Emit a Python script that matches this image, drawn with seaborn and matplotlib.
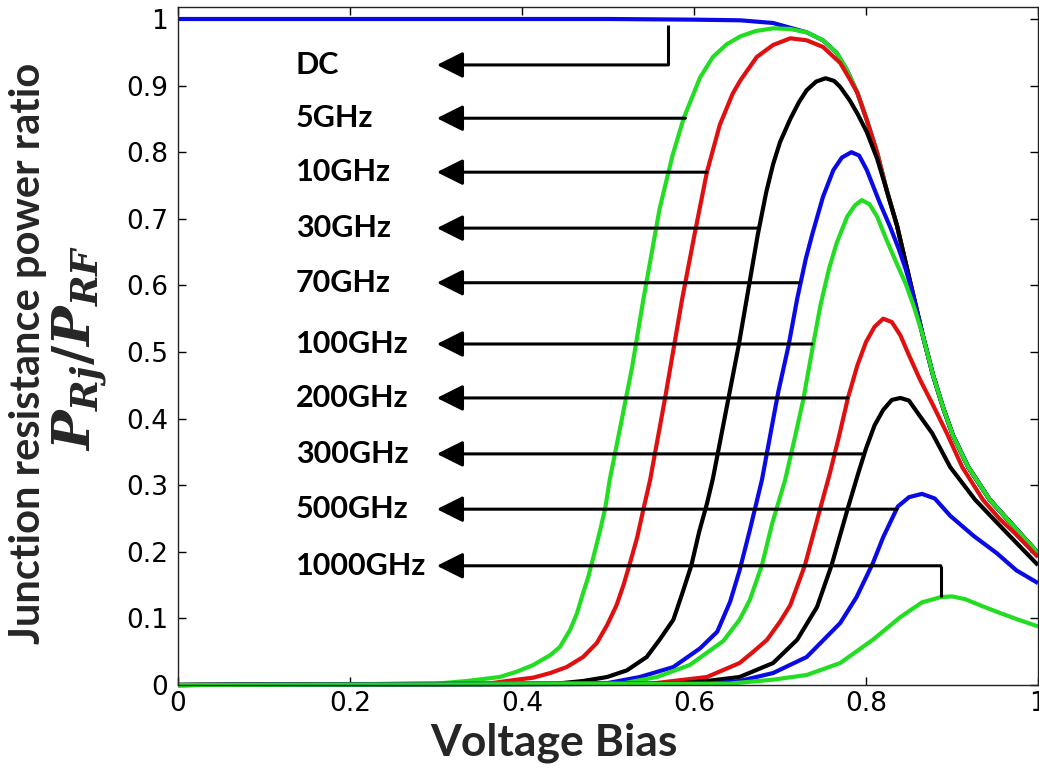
import matplotlib
matplotlib.use("Agg")
import matplotlib.pyplot as plt
import numpy as np
import pandas as pd
import seaborn as sns

# ---------------- data ----------------
SERIES = ["DC", "5GHz", "10GHz", "30GHz", "70GHz", "100GHz",
          "200GHz", "300GHz", "500GHz", "1000GHz"]

# common descending envelope shared by the low-frequency curves
ENV_X = [0.731, 0.750, 0.766, 0.778, 0.790, 0.801, 0.813, 0.824, 0.836, 0.845,
         0.855, 0.866, 0.878, 0.890, 0.901, 0.919, 0.944, 0.979, 1.0]
ENV_Y = [0.980, 0.968, 0.949, 0.923, 0.889, 0.848, 0.799, 0.743, 0.690, 0.640,
         0.585, 0.525, 0.465, 0.415, 0.375, 0.327, 0.278, 0.228, 0.198]

DC_X = [0.0, 0.30, 0.50, 0.60, 0.654, 0.692]
DC_Y = [1.0, 1.0, 1.0, 0.999, 0.998, 0.994]

G5_X = [0.0, 0.30, 0.336, 0.374, 0.394, 0.413, 0.433, 0.444, 0.456, 0.464, 0.471,
        0.477, 0.483, 0.491, 0.497, 0.502, 0.515, 0.528, 0.541, 0.560, 0.575, 0.588,
        0.607, 0.622, 0.638, 0.654, 0.672, 0.692, 0.712]
G5_Y = [0.0, 0.002, 0.006, 0.012, 0.020, 0.030, 0.045, 0.057, 0.083, 0.108, 0.138,
        0.162, 0.192, 0.233, 0.267, 0.308, 0.392, 0.477, 0.578, 0.715, 0.795, 0.851,
        0.912, 0.943, 0.962, 0.974, 0.982, 0.986, 0.985]

R10_X = [0.0, 0.36, 0.394, 0.413, 0.433, 0.452, 0.471, 0.487, 0.499, 0.510, 0.518,
         0.526, 0.534, 0.541, 0.549, 0.566, 0.586, 0.601, 0.615, 0.630, 0.645, 0.654,
         0.673, 0.692, 0.712, 0.731, 0.750, 0.770, 0.781]
R10_Y = [0.0, 0.002, 0.008, 0.011, 0.018, 0.027, 0.042, 0.063, 0.090, 0.120, 0.150,
         0.185, 0.222, 0.263, 0.308, 0.428, 0.578, 0.679, 0.770, 0.841, 0.888, 0.908,
         0.943, 0.961, 0.971, 0.968, 0.958, 0.934, 0.910]

K30_X = [0.0, 0.44, 0.471, 0.499, 0.522, 0.545, 0.560, 0.576, 0.587, 0.597, 0.606,
         0.615, 0.622, 0.631, 0.640, 0.652, 0.662, 0.674, 0.684, 0.692, 0.700, 0.712,
         0.722, 0.731, 0.742, 0.753, 0.763, 0.770, 0.781, 0.790, 0.801, 0.813]
K30_Y = [0.0, 0.002, 0.006, 0.012, 0.022, 0.042, 0.068, 0.098, 0.140, 0.180, 0.230,
         0.272, 0.310, 0.370, 0.430, 0.510, 0.585, 0.675, 0.740, 0.782, 0.815, 0.850,
         0.875, 0.893, 0.906, 0.911, 0.907, 0.898, 0.878, 0.858, 0.830, 0.790]

B70_X = [0.0, 0.50, 0.537, 0.576, 0.607, 0.627, 0.642, 0.653, 0.665, 0.679, 0.698,
         0.710, 0.720, 0.730, 0.738, 0.750, 0.762, 0.772, 0.783, 0.792, 0.801, 0.816,
         0.828, 0.838, 0.846]
B70_Y = [0.0, 0.003, 0.012, 0.027, 0.055, 0.080, 0.125, 0.172, 0.233, 0.308, 0.440,
         0.510, 0.580, 0.640, 0.679, 0.733, 0.773, 0.792, 0.800, 0.795, 0.773, 0.724,
         0.688, 0.655, 0.625]

G100_X = [0.0, 0.52, 0.557, 0.595, 0.634, 0.653, 0.665, 0.679, 0.691, 0.706, 0.717,
          0.727, 0.737, 0.747, 0.757, 0.766, 0.778, 0.787, 0.795, 0.804, 0.813, 0.824,
          0.836, 0.846, 0.856]
G100_Y = [0.0, 0.003, 0.012, 0.030, 0.066, 0.098, 0.128, 0.180, 0.243, 0.308, 0.370,
          0.428, 0.500, 0.570, 0.625, 0.664, 0.703, 0.720, 0.728, 0.722, 0.703, 0.668,
          0.632, 0.603, 0.567]

R200_X = [0.0, 0.55, 0.576, 0.615, 0.653, 0.669, 0.685, 0.700, 0.712, 0.729, 0.747,
          0.758, 0.768, 0.779, 0.790, 0.800, 0.810, 0.820, 0.830, 0.840, 0.850, 0.863,
          0.878, 0.894, 0.912, 0.936, 0.955, 0.973, 1.0]
R200_Y = [0.0, 0.002, 0.006, 0.012, 0.033, 0.050, 0.068, 0.095, 0.120, 0.180, 0.266,
          0.318, 0.370, 0.431, 0.480, 0.515, 0.538, 0.550, 0.545, 0.525, 0.495, 0.458,
          0.420, 0.378, 0.327, 0.278, 0.250, 0.228, 0.192]

K300_X = [0.0, 0.58, 0.615, 0.653, 0.692, 0.720, 0.743, 0.760, 0.779, 0.791, 0.800,
          0.810, 0.820, 0.830, 0.840, 0.850, 0.862, 0.877, 0.898, 0.927, 0.964, 1.0]
K300_Y = [0.0, 0.002, 0.006, 0.012, 0.033, 0.068, 0.117, 0.180, 0.266, 0.318, 0.355,
          0.390, 0.413, 0.428, 0.431, 0.427, 0.405, 0.378, 0.327, 0.278, 0.228, 0.180]

B500_X = [0.0, 0.62, 0.653, 0.692, 0.731, 0.770, 0.789, 0.808, 0.820, 0.837, 0.850,
          0.865, 0.880, 0.898, 0.925, 0.952, 0.975, 1.0]
B500_Y = [0.0, 0.002, 0.006, 0.018, 0.042, 0.093, 0.132, 0.183, 0.222, 0.268, 0.282,
          0.287, 0.280, 0.254, 0.224, 0.198, 0.172, 0.153]

G1000_X = [0.0, 0.64, 0.692, 0.731, 0.770, 0.808, 0.840, 0.865, 0.887, 0.900, 0.915,
           0.936, 0.952, 0.975, 1.0]
G1000_Y = [0.0, 0.002, 0.008, 0.015, 0.033, 0.068, 0.102, 0.124, 0.132, 0.133, 0.129,
           0.118, 0.110, 0.099, 0.088]

# where each curve joins the shared envelope
JOIN_AT = {"DC": 0.731, "5GHz": 0.731, "10GHz": 0.790, "30GHz": 0.824,
           "70GHz": 0.855, "100GHz": 0.866}

COLORS = ["#0a0ae6", "#22dd22", "#e01010", "#000000", "#0a0ae6",
          "#22dd22", "#e01010", "#000000", "#0a0ae6", "#22dd22"]

# annotation arrows (arrow y, x where the shaft meets the curve)
ANNOT_Y = [0.931, 0.851, 0.770, 0.686, 0.604, 0.512, 0.431, 0.347, 0.264, 0.179]
ANNOT_XEND = [0.570, 0.590, 0.615, 0.674, 0.722, 0.737, 0.779, 0.797, 0.836, 0.887]
DC_ELBOW_TOP = 0.991
HF_ELBOW_BOTTOM = 0.132
ARROW_TIP_X = 0.301
LABEL_X = 0.137

XTICKS = [0, 0.2, 0.4, 0.6, 0.8, 1.0]
XTICKLABELS = ["0", "0.2", "0.4", "0.6", "0.8", "1"]
YTICKS = [0, 0.1, 0.2, 0.3, 0.4, 0.5, 0.6, 0.7, 0.8, 0.9, 1.0]
YTICKLABELS = ["0", "0.1", "0.2", "0.3", "0.4", "0.5", "0.6", "0.7", "0.8", "0.9", "1"]

# ---------------- build long table ----------------
raw = {
    "DC": (DC_X, DC_Y), "5GHz": (G5_X, G5_Y), "10GHz": (R10_X, R10_Y),
    "30GHz": (K30_X, K30_Y), "70GHz": (B70_X, B70_Y), "100GHz": (G100_X, G100_Y),
    "200GHz": (R200_X, R200_Y), "300GHz": (K300_X, K300_Y),
    "500GHz": (B500_X, B500_Y), "1000GHz": (G1000_X, G1000_Y),
}
rows = []
for name in SERIES:
    xs, ys = list(raw[name][0]), list(raw[name][1])
    if name in JOIN_AT:
        j = JOIN_AT[name]
        for ex, ey in zip(ENV_X, ENV_Y):
            if ex >= j - 1e-9:
                xs.append(ex)
                ys.append(ey)
    for x, y in zip(xs, ys):
        rows.append((name, x, y))
df = pd.DataFrame(rows, columns=["series", "x", "y"])

# ---------------- plot ----------------
sns.set_style("ticks")
plt.rcParams["font.family"] = ["DejaVu Sans"]
plt.rcParams["mathtext.fontset"] = "custom"
plt.rcParams["mathtext.it"] = "DejaVu Serif:italic:bold"
plt.rcParams["mathtext.rm"] = "DejaVu Serif:bold"

fig = plt.figure(figsize=(10.39, 7.74), dpi=100)
ax = fig.add_axes([178 / 1039, 89 / 774, 860 / 1039, 678 / 774])

sns.lineplot(data=df, x="x", y="y", hue="series", hue_order=SERIES,
             palette=dict(zip(SERIES, COLORS)), estimator=None, sort=False,
             linewidth=3.0, legend=False, ax=ax)
for ln in ax.get_lines():
    ln.set_clip_on(False)
    ln.set_solid_capstyle("butt")
    ln.set_solid_joinstyle("round")

ax.set_xlim(0, 1)
ax.set_ylim(0, 1.018)
ax.set_xticks(XTICKS)
ax.set_xticklabels(XTICKLABELS)
ax.set_yticks(YTICKS)
ax.set_yticklabels(YTICKLABELS)
ax.tick_params(direction="in", top=True, right=True, length=6, width=1,
               labelsize=19, colors="black")
ax.tick_params(axis="x", pad=4)
ax.tick_params(axis="y", pad=7)
for s in ax.spines.values():
    s.set_visible(True)
    s.set_linewidth(1.0)
    s.set_color("#222222")
ax.set_xlabel("")
ax.set_ylabel("")

# annotations
for name, ay, xe in zip(SERIES, ANNOT_Y, ANNOT_XEND):
    ax.annotate("", xy=(ARROW_TIP_X, ay), xytext=(xe, ay),
                arrowprops=dict(arrowstyle="-|>,head_length=1.6,head_width=0.8",
                                lw=2.2, color="black", shrinkA=0, shrinkB=0,
                                mutation_scale=10))
    ax.text(LABEL_X, ay, name, ha="left", va="center", fontsize=22,
            fontweight="bold", family=["Lato", "DejaVu Sans"], color="black")
ax.plot([ANNOT_XEND[0], ANNOT_XEND[0]], [ANNOT_Y[0], DC_ELBOW_TOP],
        color="black", lw=2.2, solid_capstyle="butt")
ax.plot([ANNOT_XEND[-1], ANNOT_XEND[-1]], [ANNOT_Y[-1], HF_ELBOW_BOTTOM],
        color="black", lw=2.2, solid_capstyle="butt")

# axis titles
fig.text(554 / 1039, 1 - 743 / 774, "Voltage Bias", ha="center", va="center",
         fontsize=32, fontweight="bold", family=["Lato", "DejaVu Sans"])
fig.text(28 / 1039, 1 - 353 / 774, "Junction resistance power ratio",
         rotation=90, ha="center", va="center", fontsize=30, fontweight="bold",
         family=["Lato", "DejaVu Sans"])
fig.text(80 / 1039, 1 - 348 / 774, r"$P_{Rj}/P_{RF}$", rotation=90,
         ha="center", va="center", fontsize=38)

fig.savefig("out.png", dpi=100)
